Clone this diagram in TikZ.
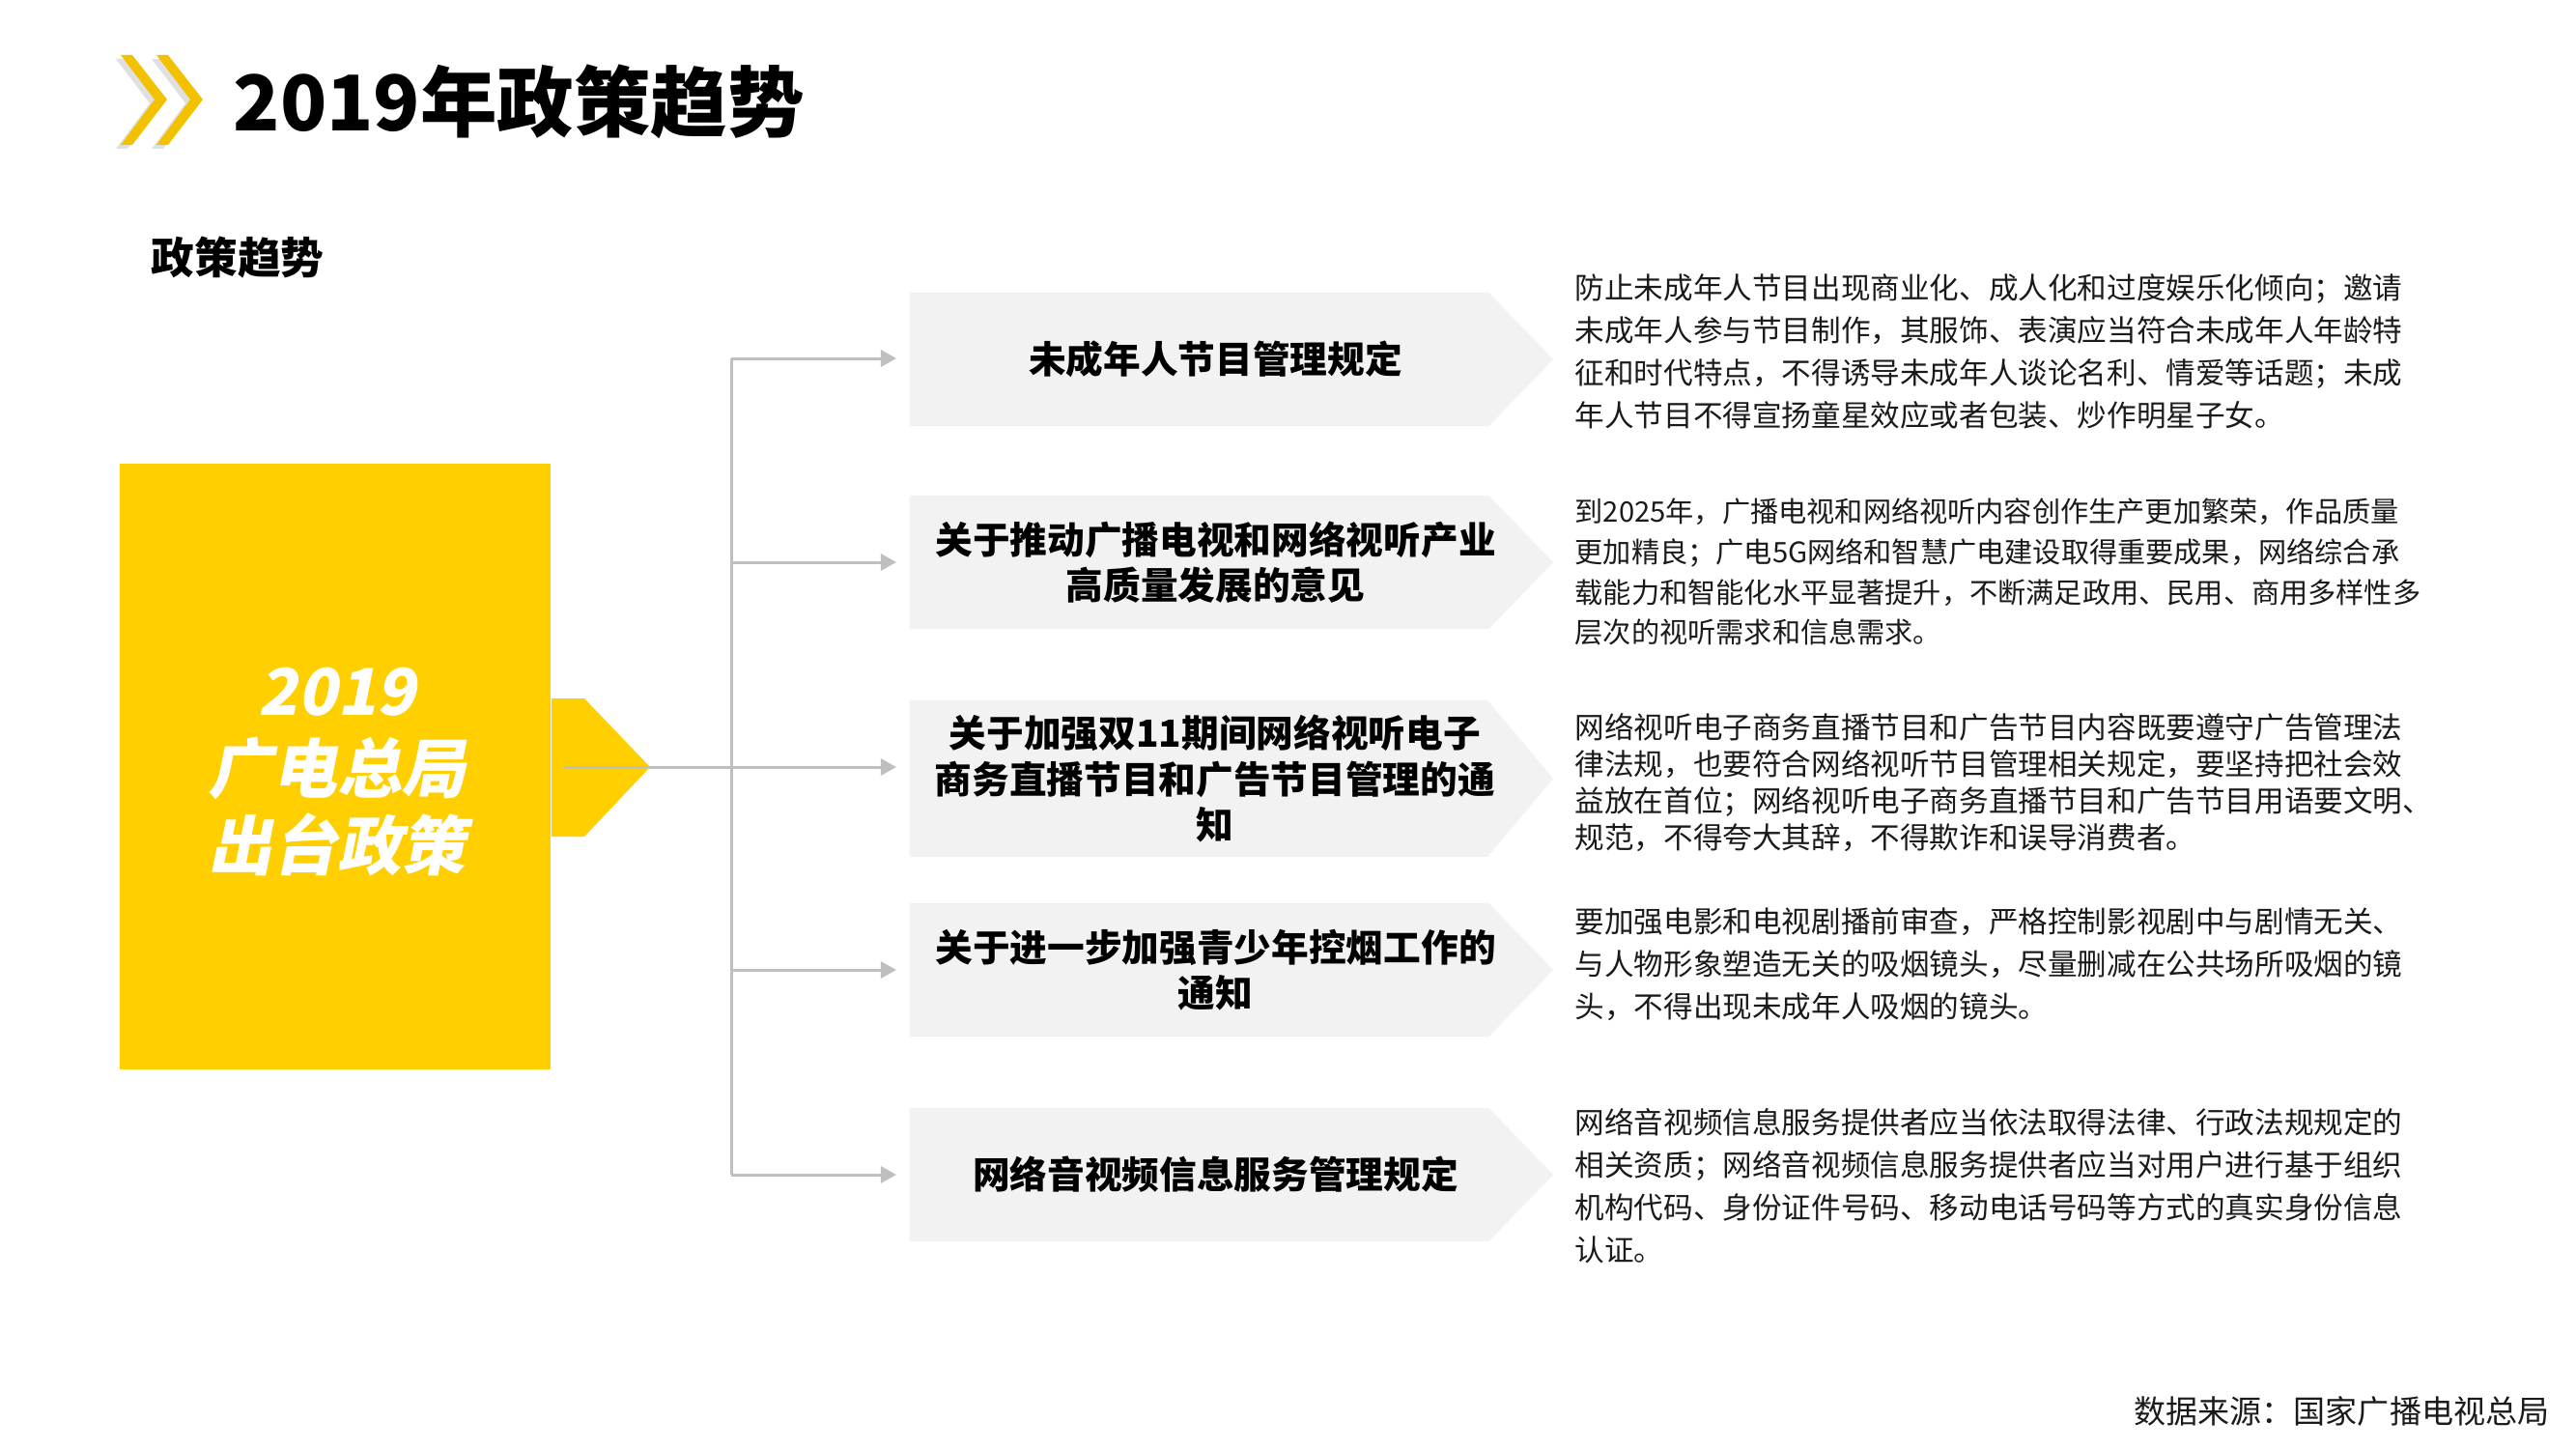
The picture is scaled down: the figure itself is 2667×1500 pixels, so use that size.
\documentclass[tikz,border=0pt]{standalone}
\usepackage{fontspec}
\setmainfont{Noto Sans CJK SC}
\newfontfamily\slfont{Noto Sans CJK SC}[FakeSlant=0.2]
\usetikzlibrary{arrows.meta,shapes.symbols}
\definecolor{q1}{HTML}{FFCF00}
\definecolor{q2}{HTML}{F2F2F2}
\definecolor{q3}{HTML}{BFBFBF}
\definecolor{q4}{HTML}{F2C200}
\definecolor{q5}{HTML}{1A1A1A}

\tikzset{
  pol/.style={shape=signal, signal to=east, signal pointer angle=92, fill=q2,
    inner sep=0pt, minimum width=6.66cm, minimum height=1.38cm, anchor=west},
  ptxt/.style={align=center, inner sep=0pt, font=\fontsize{11}{13.5}\selectfont\bfseries},
  txt/.style={anchor=west, align=left, inner sep=0pt, text=q5,
    font=\fontsize{8.7}{12.5}\selectfont},
  lnk/.style={q3, line width=0.03cm, shorten >=0.13cm,
    -{Triangle[length=0.16cm,width=0.17cm]}}
}

\begin{document}
\begin{tikzpicture}[x=0.01cm,y=-0.01cm]
\useasboundingbox (0,0) rectangle (2667,1500);

% title
\fill[black!35, opacity=0.35] (120,61) -- (132,61) -- (168,107) -- (132,154) -- (120,154) -- (155,107) -- cycle;
\fill[black!35, opacity=0.35] (157,61) -- (169,61) -- (205,107) -- (169,154) -- (157,154) -- (192,107) -- cycle;
\fill[q4] (125,57) -- (137,57) -- (173,103) -- (137,150) -- (125,150) -- (160,103) -- cycle;
\fill[q4] (162,57) -- (174,57) -- (210,103) -- (174,150) -- (162,150) -- (197,103) -- cycle;
\node[anchor=west, inner sep=0pt, font=\fontsize{22.6}{26}\selectfont\bfseries] (title) at (241,105) {2019年政策趋势};
\node[anchor=west, inner sep=0pt, font=\fontsize{12.7}{15}\selectfont\bfseries] (sub) at (156,267) {政策趋势};

% left block
\node[fill=q1, minimum width=4.46cm, minimum height=6.27cm, inner sep=0pt] (main) at (347,793.5) {};
\node[text=white, align=center, inner sep=0pt, font=\fontsize{19}{22.8}\selectfont\slfont\bfseries] (maintxt) at (349,799) {2019\\广电总局\\出台政策};
\fill[q1] (main.east |- 0,723) -- (605,723) -- (673,794) -- (605,866) -- (main.east |- 0,866) -- cycle;

% policy boxes
\node[pol] (b1) at (941,372) {};
\node[pol] (b2) at (941,582) {};
\node[pol, minimum height=1.62cm, signal pointer angle=100] (b3) at (941,806) {};
\node[pol] (b4) at (941,1004) {};
\node[pol] (b5) at (941,1216) {};
\node[ptxt] (t1) at ([xshift=0.17cm]b1.center) {未成年人节目管理规定};
\node[ptxt] (t2) at ([xshift=0.17cm]b2.center) {关于推动广播电视和网络视听产业\\高质量发展的意见};
\node[ptxt] (t3) at ([xshift=0.17cm]b3.center) {关于加强双11期间网络视听电子\\商务直播节目和广告节目管理的通\\知};
\node[ptxt] (t4) at ([xshift=0.17cm]b4.center) {关于进一步加强青少年控烟工作的\\通知};
\node[ptxt] (t5) at ([xshift=0.17cm]b5.center) {网络音视频信息服务管理规定};

% connectors
\coordinate (s) at (584,794);
\coordinate (j1) at (757,371);
\coordinate (j2) at (757,582);
\coordinate (j4) at (757,1004);
\coordinate (j5) at (757,1216);
\draw[q3, line width=0.03cm] (j1) -- (j5);
\draw[lnk] (j1) -- (j1 -| b1.west);
\draw[lnk] (j2) -- (j2 -| b2.west);
\draw[lnk] (s) -- (s -| b3.west);
\draw[lnk] (j4) -- (j4 -| b4.west);
\draw[lnk] (j5) -- (j5 -| b5.west);

% descriptions
\node[txt] (d1) at (1630,364) {防止未成年人节目出现商业化、成人化和过度娱乐化倾向；邀请\\未成年人参与节目制作，其服饰、表演应当符合未成年人年龄特\\征和时代特点，不得诱导未成年人谈论名利、情爱等话题；未成\\年人节目不得宣扬童星效应或者包装、炒作明星子女。};
\node[txt, font=\fontsize{8.3}{11.9}\selectfont] (d2) at (1630,592) {到2025年，广播电视和网络视听内容创作生产更加繁荣，作品质量\\更加精良；广电5G网络和智慧广电建设取得重要成果，网络综合承\\载能力和智能化水平显著提升，不断满足政用、民用、商用多样性多\\层次的视听需求和信息需求。};
\node[txt, font=\fontsize{8.7}{10.8}\selectfont] (d3) at (1630,810) {网络视听电子商务直播节目和广告节目内容既要遵守广告管理法\\律法规，也要符合网络视听节目管理相关规定，要坚持把社会效\\益放在首位；网络视听电子商务直播节目和广告节目用语要文明、\\规范，不得夸大其辞，不得欺诈和误导消费者。};
\node[txt] (d4) at (1630,998) {要加强电影和电视剧播前审查，严格控制影视剧中与剧情无关、\\与人物形象塑造无关的吸烟镜头，尽量删减在公共场所吸烟的镜\\头，不得出现未成年人吸烟的镜头。};
\node[txt] (d5) at (1630,1228) {网络音视频信息服务提供者应当依法取得法律、行政法规规定的\\相关资质；网络音视频信息服务提供者应当对用户进行基于组织\\机构代码、身份证件号码、移动电话号码等方式的真实身份信息\\认证。};

% source
\node[anchor=east, inner sep=0pt, text=q5, font=\fontsize{9.4}{11}\selectfont] (src) at (2640,1461) {数据来源：国家广播电视总局};
\end{tikzpicture}
\end{document}
